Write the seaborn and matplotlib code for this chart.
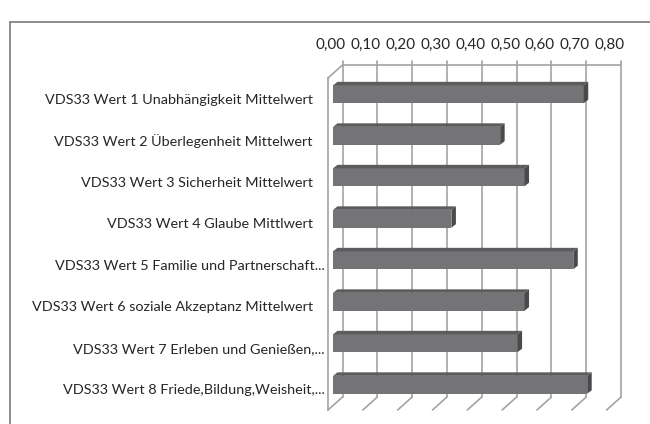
import matplotlib
matplotlib.use("Agg")
import matplotlib.pyplot as plt
from matplotlib.lines import Line2D
from matplotlib.patches import Polygon
from matplotlib.transforms import ScaledTranslation
import numpy as np
import pandas as pd
import seaborn as sns

categories = [
    "VDS33 Wert 1 Unabhängigkeit Mittelwert",
    "VDS33 Wert 2 Überlegenheit Mittelwert",
    "VDS33 Wert 3 Sicherheit Mittelwert",
    "VDS33 Wert 4 Glaube Mittlwert",
    "VDS33 Wert 5 Familie und Partnerschaft...",
    "VDS33 Wert 6 soziale Akzeptanz Mittelwert",
    "VDS33 Wert 7 Erleben und Genießen,...",
    "VDS33 Wert 8 Friede,Bildung,Weisheit,...",
]
values = [0.72, 0.48, 0.55, 0.34, 0.69, 0.55, 0.53, 0.73]
xticks = [0.0, 0.1, 0.2, 0.3, 0.4, 0.5, 0.6, 0.7, 0.8]
xtick_labels = ["0,00", "0,10", "0,20", "0,30", "0,40", "0,50", "0,60", "0,70", "0,80"]

sns.set_style("white")
plt.rcParams["font.family"] = ["Lato", "DejaVu Sans"]

W, H, DPI = 650, 424, 100
fig = plt.figure(figsize=(W / DPI, H / DPI), dpi=DPI)

# front plane in pixels
L, R, T, B = 328, 606.6, 78, 410
ax = fig.add_axes([L / W, 1 - B / H, (R - L) / W, (B - T) / H])

df = pd.DataFrame({"cat": categories, "val": values})
sns.barplot(data=df, x="val", y="cat", orient="h", color="#747477",
            saturation=1, width=0.43, ax=ax)
ax.set_xlim(0, 0.8)
ax.set_ylim(7.5, -0.5)

px2x = 0.8 / (R - L)
px2y = 8.0 / (B - T)

grid_c = "#a3a3a3"
grid_lw = 1.2
GX, GY = 14.5, -13.0   # back plane offset (pixels)
BX, BY = 5.0, -4.5     # bar front face offset
DX, DY = 4.5, -3.5     # bar depth

# back wall gridlines
gx, gy = GX * px2x, GY * px2y
for v in xticks:
    ax.plot([v + gx, v + gx], [-0.5 + gy - 4 * px2y, 7.5 + gy], color=grid_c,
            lw=grid_lw, clip_on=False, zorder=0.5)
    ax.plot([v, v + gx], [7.5, 7.5 + gy], color=grid_c, lw=grid_lw,
            clip_on=False, zorder=0.5)
ax.plot([gx, 0.8 + gx], [-0.5 + gy, -0.5 + gy], color=grid_c, lw=grid_lw,
        clip_on=False, zorder=0.5)
ax.plot([0, gx], [-0.5, -0.5 + gy], color=grid_c, lw=grid_lw,
        clip_on=False, zorder=0.5)

# 3D bars
ddx, ddy = DX * px2x, DY * px2y
for p in ax.patches:
    p.set_x(p.get_x() + BX * px2x)
    p.set_y(p.get_y() + BY * px2y)
    p.set_edgecolor("none")
    p.set_clip_on(False)
    p.set_zorder(3)
    x0, yt = p.get_x(), p.get_y()
    x1, yb = x0 + p.get_width(), yt + p.get_height()
    top = Polygon([(x0, yt), (x1, yt), (x1 + ddx, yt + ddy), (x0 + ddx, yt + ddy)],
                  closed=True, facecolor="#5c5c5e", edgecolor="none",
                  clip_on=False, zorder=3)
    side = Polygon([(x1, yt), (x1 + ddx, yt + ddy), (x1 + ddx, yb + ddy), (x1, yb)],
                   closed=True, facecolor="#4a4a4c", edgecolor="none",
                   clip_on=False, zorder=3)
    ax.add_patch(top)
    ax.add_patch(side)

# axes styling
for s in ["top", "right", "bottom"]:
    ax.spines[s].set_visible(False)
ax.spines["left"].set_color(grid_c)
ax.spines["left"].set_linewidth(grid_lw)
ax.set_xlabel("")
ax.set_ylabel("")

ax.xaxis.tick_top()
ax.set_xticks(xticks)
ax.set_xticklabels(xtick_labels)
ax.tick_params(axis="x", length=0, pad=18.5, labelsize=11, labelcolor="#262626")
for lab in ax.get_xticklabels():
    lab.set_transform(lab.get_transform() + ScaledTranslation(3 / DPI, 0, fig.dpi_scale_trans))

ax.set_yticks(range(len(categories)))
ax.set_yticklabels(categories)
ax.set_yticks(np.arange(-0.5, 8.0, 1.0), minor=True)
ax.tick_params(axis="y", which="major", length=0, pad=11, labelsize=10.4, labelcolor="#262626")
ax.tick_params(axis="y", which="minor", length=5, width=grid_lw, color=grid_c, direction="out")
for lab in ax.get_yticklabels():
    if lab.get_text().endswith("..."):
        lab.set_transform(lab.get_transform() + ScaledTranslation(12 / DPI, 0, fig.dpi_scale_trans))

# outer chart border
fig.add_artist(Line2D([10 / W, 10 / W], [0, 1 - 22 / H], transform=fig.transFigure,
                      color="#7a7a7a", lw=1.2))
fig.add_artist(Line2D([10 / W, 1], [1 - 22 / H, 1 - 22 / H], transform=fig.transFigure,
                      color="#7a7a7a", lw=1.2))

fig.savefig("out.png", dpi=DPI, facecolor="white")
